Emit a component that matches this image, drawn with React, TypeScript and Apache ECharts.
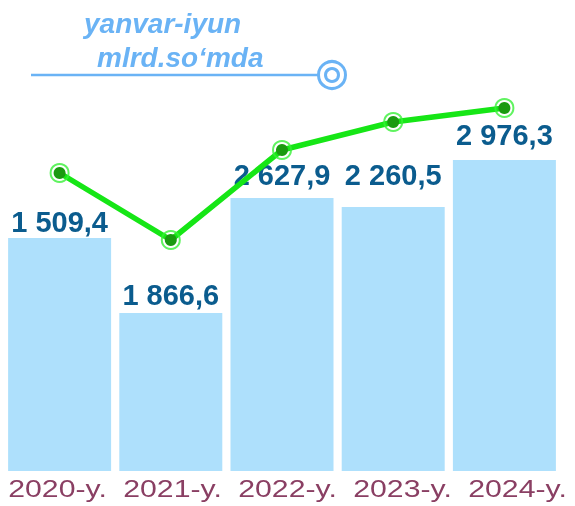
import React, { useEffect, useRef } from "react";
import * as echarts from "echarts";

// Categories (years)
const categories = ["2020-y.", "2021-y.", "2022-y.", "2023-y.", "2024-y."];
// Printed bar values (mlrd. so'm)
const barLabels = ["1 509,4", "1 866,6", "2 627,9", "2 260,5", "2 976,3"];
// Drawn bar heights (arbitrary infographic units)
const barLevels = [233, 158, 273, 264, 311];
// Drawn line levels (same arbitrary units)
const lineLevels = [298, 231, 321, 349, 363];

const titleLine1 = "yanvar-iyun";
const titleLine2 = "mlrd.so\u2018mda";

const labelGaps = [2, 4, 9, 18, 11];

export default function App() {
  const ref = useRef<HTMLDivElement>(null);
  useEffect(() => {
    if (!ref.current) return;
    const chart = echarts.init(ref.current, undefined, { renderer: "svg" });
    const blue = "#6ab3f5";
    chart.setOption({
      animation: false,
      grid: [
        { left: 4, right: 15, top: 71, bottom: 35 },
        { left: 0, right: 0, top: 71, bottom: 35 },
      ],
      xAxis: [
        {
          type: "category",
          data: categories,
          axisLine: { show: false },
          axisTick: { show: false },
          axisLabel: { show: false },
        },
        {
          type: "category",
          gridIndex: 1,
          data: categories,
          show: false,
        },
      ],
      yAxis: [
        {
          type: "value",
          min: 0,
          max: 400,
          show: false,
          splitLine: { show: false },
        },
        { type: "value", gridIndex: 1, min: 0, max: 400, show: false },
      ],
      series: [
        {
          type: "bar",
          data: barLevels.map((v, i) => ({
            value: v,
            label: { distance: labelGaps[i] },
          })),
          barWidth: 103,
          itemStyle: { color: "#aee0fc" },
          label: {
            show: true,
            position: "top",
            formatter: (p: any) => barLabels[p.dataIndex],
            color: "#0b5c8e",
            fontFamily: "Liberation Sans, Arial, sans-serif",
            fontWeight: "bold",
            fontSize: 29,
          },
          z: 2,
        },
        {
          type: "line",
          data: lineLevels,
          lineStyle: { color: "#16e616", width: 5.5 },
          symbol: "circle",
          symbolSize: 12,
          itemStyle: { color: "#1a9a10" },
          z: 3,
        },
        {
          type: "scatter",
          data: lineLevels,
          symbol: "circle",
          symbolSize: 18,
          itemStyle: { color: "rgba(0,0,0,0)", borderColor: "#38f038", borderWidth: 2 },
          z: 4,
          silent: true,
        },
      ],
    });

    const baseY = chart.convertToPixel({ yAxisIndex: 1 }, 0) as number;
    const axisTexts = categories.map((c) => {
      const px = chart.convertToPixel({ xAxisIndex: 1 }, c) as number;
      return {
        type: "text",
        x: px,
        y: baseY + 6,
        scaleX: 1.26,
        style: {
          text: c,
          x: 0,
          y: 0,
          fill: "#8a3f63",
          font: "24px 'Liberation Sans', Arial, sans-serif",
          align: "center",
          textAlign: "center",
          verticalAlign: "top",
          textVerticalAlign: "top",
        },
      };
    });

    chart.setOption({
      graphic: [
        {
          type: "text",
          left: 84,
          top: 9,
          style: {
            text: titleLine1,
            fill: blue,
            font: "italic bold 28px 'Liberation Sans', Arial, sans-serif",
          },
        },
        {
          type: "text",
          left: 97,
          top: 43,
          style: {
            text: titleLine2,
            fill: blue,
            font: "italic bold 28px 'Liberation Sans', Arial, sans-serif",
          },
        },
        {
          type: "line",
          shape: { x1: 31, y1: 75, x2: 318, y2: 75 },
          style: { stroke: blue, lineWidth: 2.5 },
        },
        {
          type: "circle",
          shape: { cx: 332, cy: 75, r: 13.5 },
          style: { fill: "#fff", stroke: blue, lineWidth: 3 },
        },
        {
          type: "circle",
          shape: { cx: 332, cy: 75, r: 6.5 },
          style: { fill: "#fff", stroke: blue, lineWidth: 3 },
        },
        ...axisTexts,
      ],
    });
    return () => chart.dispose();
  }, []);
  return (
    <div
      ref={ref}
      style={{ position: "fixed", left: 0, top: 0, width: 575, height: 506 }}
    />
  );
}
